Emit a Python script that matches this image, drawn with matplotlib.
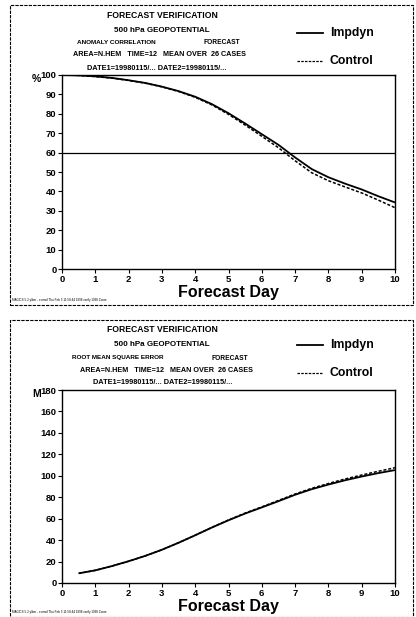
import matplotlib
matplotlib.use("Agg")
import matplotlib.pyplot as plt
from matplotlib.patches import Rectangle

W, H = 416, 617
DPI = 100

# ---------------- data ----------------
days_ac = [0, 0.5, 1, 1.5, 2, 2.5, 3, 3.5, 4, 4.5, 5, 5.5, 6, 6.5, 7, 7.5, 8, 8.5, 9, 9.5, 10]
ac_impdyn = [100, 99.8, 99.3, 98.5, 97.3, 95.9, 94.0, 91.7, 88.8, 85.0, 80.3, 75.0, 69.5,
             64.0, 57.5, 51.5, 47.3, 44.0, 41.0, 37.5, 34.3]
ac_control = [100, 99.8, 99.2, 98.4, 97.2, 95.8, 93.9, 91.5, 88.5, 84.6, 79.7, 74.2, 68.4,
              62.5, 55.8, 49.6, 45.5, 42.3, 39.2, 35.5, 31.6]
ac_threshold = 60

days_rmse = [0.5, 1, 1.5, 2, 2.5, 3, 3.5, 4, 4.5, 5, 5.5, 6, 6.5, 7, 7.5, 8, 8.5, 9, 9.5, 10]
rmse_impdyn = [9.0, 11.8, 15.8, 20.3, 25.3, 31.0, 37.5, 44.5, 51.7, 58.5, 64.8, 70.5, 76.3,
               82.3, 87.5, 91.8, 95.8, 99.3, 102.5, 105.3]
rmse_control = [9.0, 11.8, 15.8, 20.3, 25.3, 31.0, 37.6, 44.6, 51.9, 58.8, 65.2, 71.0, 77.0,
                83.0, 88.3, 92.8, 97.0, 100.7, 104.2, 107.5]

x_ticks = list(range(0, 11))
ac_yticks = list(range(0, 101, 10))
rmse_yticks = list(range(0, 181, 20))
series_names = ["Impdyn", "Control"]

NARROW = ["Liberation Sans Narrow", "Liberation Sans", "DejaVu Sans"]
SANS = ["Liberation Sans", "DejaVu Sans"]

fig = plt.figure(figsize=(W / DPI, H / DPI), dpi=DPI)
fig.patch.set_facecolor("white")


def fx(px):
    return px / W


def fy(py):
    return 1 - py / H


def T(x, y, s, size, ha="left", family=NARROW, weight="bold", **kw):
    fig.text(fx(x), fy(y), s, fontsize=size, ha=ha, va="center",
             family=family, weight=weight, **kw)


def make_panel(top, bottom, yticks, ymax, unit, header, x_data, y1, y2, hline=None,
               ofs=0):
    # outer border
    fig.patches.append(Rectangle((fx(10), fy(top[1])), fx(403), (top[1] - top[0]) / H,
                                 transform=fig.transFigure, fill=False, lw=0.8,
                                 ec="black", ls=(0, (3, 1))))
    ax = fig.add_axes([fx(62), fy(bottom), fx(333), (bottom - top[2]) / H])
    ax.plot(x_data, y1, color="black", lw=1.3, solid_capstyle="butt")
    ax.plot(x_data, y2, color="black", lw=1.1, ls=(0, (2, 1.2)))
    if hline is not None:
        ax.axhline(hline, color="black", lw=0.9)
    ax.set_xlim(0, 10)
    ax.set_ylim(0, ymax)
    ax.set_xticks(x_ticks)
    ax.set_yticks(yticks)
    ylabels = [str(v) for v in yticks]
    ax.set_yticklabels(ylabels)
    for lab in ax.get_xticklabels() + ax.get_yticklabels():
        lab.set_fontfamily(SANS)
        lab.set_fontweight("bold")
        lab.set_fontsize(6.8)
    ax.tick_params(direction="out", length=3, width=0.8, pad=1)
    for sp in ax.spines.values():
        sp.set_linewidth(1.0)
    ax.set_xlabel("Forecast Day", fontsize=11.5, family=SANS, weight="bold", labelpad=1)
    # unit label
    T(41, top[2] + 4, unit, 7.5, ha="right", family=SANS)
    # header texts
    t0 = top[0]
    T(162, t0 + 10, "FORECAST VERIFICATION", 6.2, ha="center")
    T(162, t0 + 25, "500 hPa GEOPOTENTIAL", 5.8, ha="center")
    T(header[1], t0 + 38, header[0], 4.6)
    T(header[2], t0 + 38, "FORECAST", 4.8)
    T(header[3], t0 + 50, "AREA=N.HEM   TIME=12   MEAN OVER  26 CASES", 5.2)
    T(header[4], t0 + 63, "DATE1=19980115/... DATE2=19980115/...", 5.3)
    # legend
    ly1 = t0 + 28 + ofs
    ly2 = t0 + 56 + ofs
    fig.add_artist(plt.Line2D([fx(297), fx(323)], [fy(ly1), fy(ly1)], color="black",
                              lw=1.3, transform=fig.transFigure))
    fig.add_artist(plt.Line2D([fx(297), fx(323)], [fy(ly2), fy(ly2)], color="black",
                              lw=0.9, ls=(0, (2, 1)), transform=fig.transFigure))
    T(330, ly1, series_names[0], 8.8, family=SANS, weight="bold")
    T(330, ly2, series_names[1], 8.8, family=SANS, weight="bold")
    # footnote
    T(12, top[1] - 5, "MAGICS 5.2 ylber - ecmwf Thu Feb 5 11:58:44 1998 verify 1998 Zoom",
      2.2, family=SANS, weight="normal")
    return ax


make_panel((5, 305, 75), 269, ac_yticks, 100, "%",
           ("ANOMALY CORRELATION", 77, 203, 73, 87), days_ac, ac_impdyn, ac_control,
           hline=ac_threshold, ofs=0)
make_panel((320, 617, 390), 583, rmse_yticks, 180, "M",
           ("ROOT MEAN SQUARE ERROR", 72, 212, 80, 93), days_rmse, rmse_impdyn,
           rmse_control, ofs=-3)

fig.savefig("out.png", dpi=DPI)
